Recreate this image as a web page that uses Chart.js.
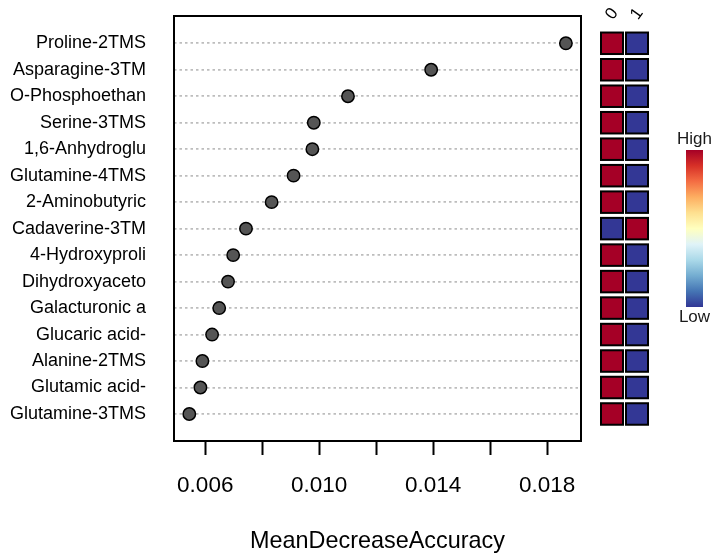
<!DOCTYPE html>
<html>
<head>
<meta charset="utf-8">
<script src="https://cdn.jsdelivr.net/npm/chart.js@4.4.1/dist/chart.umd.min.js"></script>
<style>
  body { margin: 0; background: #fff; }
  #grafica { display: block; }
</style>
</head>
<body>
<canvas id="grafica" width="713" height="553"></canvas>
<script>
// metabolitos ordenados por importancia (arriba -> abajo)
const metabolitos = [
  "Proline-2TMS", "Asparagine-3TM", "O-Phosphoethan", "Serine-3TMS",
  "1,6-Anhydroglu", "Glutamine-4TMS", "2-Aminobutyric", "Cadaverine-3TM",
  "4-Hydroxyproli", "Dihydroxyaceto", "Galacturonic a", "Glucaric acid-",
  "Alanine-2TMS", "Glutamic acid-", "Glutamine-3TMS"
];
const meanDecrease = [
  0.01866, 0.01393, 0.01101, 0.00981, 0.00976, 0.00910, 0.00833, 0.00743,
  0.00698, 0.00680, 0.00649, 0.00624, 0.00590, 0.00583, 0.00544
];
// nivel relativo por grupo (1 = alto, 0 = bajo)
const grupo0 = [1, 1, 1, 1, 1, 1, 1, 0, 1, 1, 1, 1, 1, 1, 1];
const grupo1 = [0, 0, 0, 0, 0, 0, 0, 1, 0, 0, 0, 0, 0, 0, 0];
const grupos = ["0", "1"];

const xTicks = [0.006, 0.008, 0.010, 0.012, 0.014, 0.016, 0.018];
const xTickLabels = ["0.006", "", "0.010", "", "0.014", "", "0.018"];

const ALTO = "#A50026";
const BAJO = "#333795";
const escalaRdYlBu = ["#a50026", "#d73027", "#f46d43", "#fdae61", "#fee090",
  "#ffffbf", "#e0f3f8", "#abd9e9", "#74add1", "#4575b4", "#313695"];

const fuente = "'Liberation Sans', Arial, sans-serif";

// marco negro del area del grafico
const marco = {
  id: "marco",
  beforeDatasetsDraw(chart) {
    const { ctx, chartArea: a } = chart;
    ctx.save();
    ctx.strokeStyle = "#000";
    ctx.lineWidth = 2;
    ctx.strokeRect(a.left, a.top, a.right - a.left, a.bottom - a.top);
    ctx.restore();
  }
};

// mapa de calor a la derecha + barra de color
const mapaCalor = {
  id: "mapaCalor",
  afterDraw(chart) {
    const { ctx, chartArea: a } = chart;
    const y = chart.scales.y;
    const cols = [grupo0, grupo1];
    const ancho = 22, alto = 21.5;
    ctx.save();
    cols.forEach((col, c) => {
      const x0 = a.right + 20 + c * 25;
      col.forEach((v, i) => {
        const yc = y.getPixelForValue(i);
        ctx.fillStyle = v ? ALTO : BAJO;
        ctx.fillRect(x0, yc - alto / 2, ancho, alto);
        ctx.strokeStyle = "#000";
        ctx.lineWidth = 2;
        ctx.strokeRect(x0, yc - alto / 2, ancho, alto);
      });
      // etiqueta de la columna, girada
      ctx.save();
      ctx.translate(x0 + ancho / 2, 14);
      ctx.rotate(-Math.PI * 0.3);
      ctx.fillStyle = "#000";
      ctx.font = "17px " + fuente;
      ctx.textAlign = "center";
      ctx.textBaseline = "middle";
      ctx.fillText(grupos[c], 0, 0);
      ctx.restore();
    });

    // barra de color High/Low
    const bx = a.right + 105, by = 150, bw = 17, bh = 157;
    const grad = ctx.createLinearGradient(0, by, 0, by + bh);
    escalaRdYlBu.forEach((col, k) => grad.addColorStop(k / (escalaRdYlBu.length - 1), col));
    ctx.fillStyle = grad;
    ctx.fillRect(bx, by, bw, bh);
    ctx.fillStyle = "#1a1a1a";
    ctx.font = "17px " + fuente;
    ctx.textAlign = "center";
    ctx.textBaseline = "middle";
    ctx.fillText("High", bx + bw / 2, by - 11);
    ctx.fillText("Low", bx + bw / 2, by + bh + 10);
    ctx.restore();
  }
};

const ctx = document.getElementById("grafica").getContext("2d");
new Chart(ctx, {
  type: "scatter",
  data: {
    datasets: [{
      data: meanDecrease.map((v, i) => ({ x: v, y: i })),
      pointRadius: 6.2,
      pointHoverRadius: 6.2,
      pointBackgroundColor: "#555555",
      pointBorderColor: "#000",
      pointBorderWidth: 1.5
    }]
  },
  options: {
    responsive: false,
    animation: false,
    layout: { padding: { top: 16, right: 132, bottom: 0, left: 0 } },
    plugins: { legend: { display: false }, tooltip: { enabled: false } },
    scales: {
      x: {
        type: "linear",
        min: 0.004903,
        max: 0.01919,
        afterBuildTicks: (s) => { s.ticks = xTicks.map(v => ({ value: v })); },
        afterFit: (s) => { s.height = 112; s.paddingLeft = 0; s.paddingRight = 0; },
        grid: { drawOnChartArea: false, drawTicks: true, tickLength: 14, tickColor: "#000", tickWidth: 2 },
        border: { display: false },
        ticks: {
          padding: 17,
          color: "#000",
          font: { family: fuente, size: 22.5 },
          maxRotation: 0,
          autoSkip: false,
          callback: (v, i) => xTickLabels[i]
        },
        title: {
          display: true,
          text: "MeanDecreaseAccuracy",
          color: "#000",
          font: { family: fuente, size: 23.4 },
          padding: { top: 0, bottom: -3 }
        }
      },
      y: {
        type: "linear",
        reverse: true,
        min: -1.03,
        max: 15.02,
        afterBuildTicks: (s) => { s.ticks = metabolitos.map((m, i) => ({ value: i })); },
        afterFit: (s) => { s.width = 174; s.paddingTop = 0; s.paddingBottom = 0; },
        grid: { color: "#bdbdbd", lineWidth: 1.8, drawTicks: false },
        border: { display: false, dash: [2.5, 3] },
        ticks: {
          padding: 28,
          color: "#000",
          autoSkip: false,
          font: { family: fuente, size: 18 },
          callback: (v) => metabolitos[v]
        }
      }
    }
  },
  plugins: [marco, mapaCalor]
});
</script>
</body>
</html>
